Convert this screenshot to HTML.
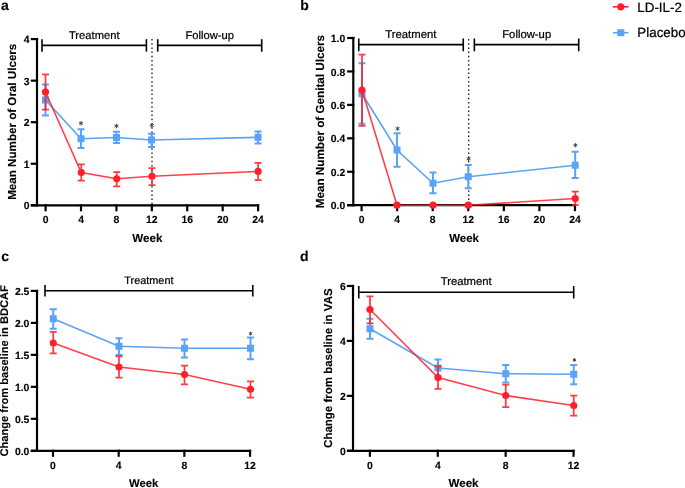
<!DOCTYPE html>
<html><head><meta charset="utf-8"><style>
html,body{margin:0;padding:0;background:#fff;width:685px;height:488px;overflow:hidden}
svg{display:block;will-change:transform}
text{font-family:"Liberation Sans",sans-serif;text-rendering:geometricPrecision}
</style></head><body>
<svg width="685" height="488" viewBox="0 0 685 488">
<rect width="685" height="488" fill="#fff"/>
<text x="1" y="10" font-size="14" text-anchor="start" font-weight="bold" fill="#000" stroke="#000" stroke-width="0.12" stroke-linejoin="round">a</text>
<line x1="37" y1="38.0" x2="37" y2="206.4" stroke="#000" stroke-width="2.2" />
<line x1="30.8" y1="205.3" x2="259.196" y2="205.3" stroke="#000" stroke-width="2.2" />
<line x1="30.8" y1="205.3" x2="38.1" y2="205.3" stroke="#000" stroke-width="2.2" />
<line x1="30.8" y1="163.75" x2="38.1" y2="163.75" stroke="#000" stroke-width="2.2" />
<line x1="30.8" y1="122.20000000000002" x2="38.1" y2="122.20000000000002" stroke="#000" stroke-width="2.2" />
<line x1="30.8" y1="80.65000000000002" x2="38.1" y2="80.65000000000002" stroke="#000" stroke-width="2.2" />
<line x1="30.8" y1="39.10000000000002" x2="38.1" y2="39.10000000000002" stroke="#000" stroke-width="2.2" />
<text x="29.6" y="209.4" font-size="10.4" text-anchor="end" font-weight="bold" fill="#000" stroke="#000" stroke-width="0.12" stroke-linejoin="round">0</text>
<text x="29.6" y="167.85" font-size="10.4" text-anchor="end" font-weight="bold" fill="#000" stroke="#000" stroke-width="0.12" stroke-linejoin="round">1</text>
<text x="29.6" y="126.30000000000001" font-size="10.4" text-anchor="end" font-weight="bold" fill="#000" stroke="#000" stroke-width="0.12" stroke-linejoin="round">2</text>
<text x="29.6" y="84.75000000000001" font-size="10.4" text-anchor="end" font-weight="bold" fill="#000" stroke="#000" stroke-width="0.12" stroke-linejoin="round">3</text>
<text x="29.6" y="43.200000000000024" font-size="10.4" text-anchor="end" font-weight="bold" fill="#000" stroke="#000" stroke-width="0.12" stroke-linejoin="round">4</text>
<line x1="45.6" y1="204.20000000000002" x2="45.6" y2="211.3" stroke="#000" stroke-width="2.2" />
<text x="45.6" y="222.8" font-size="10.4" text-anchor="middle" font-weight="bold" fill="#000" stroke="#000" stroke-width="0.12" stroke-linejoin="round">0</text>
<line x1="81.01599999999999" y1="204.20000000000002" x2="81.01599999999999" y2="211.3" stroke="#000" stroke-width="2.2" />
<text x="81.01599999999999" y="222.8" font-size="10.4" text-anchor="middle" font-weight="bold" fill="#000" stroke="#000" stroke-width="0.12" stroke-linejoin="round">4</text>
<line x1="116.43199999999999" y1="204.20000000000002" x2="116.43199999999999" y2="211.3" stroke="#000" stroke-width="2.2" />
<text x="116.43199999999999" y="222.8" font-size="10.4" text-anchor="middle" font-weight="bold" fill="#000" stroke="#000" stroke-width="0.12" stroke-linejoin="round">8</text>
<line x1="151.84799999999998" y1="204.20000000000002" x2="151.84799999999998" y2="211.3" stroke="#000" stroke-width="2.2" />
<text x="151.84799999999998" y="222.8" font-size="10.4" text-anchor="middle" font-weight="bold" fill="#000" stroke="#000" stroke-width="0.12" stroke-linejoin="round">12</text>
<line x1="187.26399999999998" y1="204.20000000000002" x2="187.26399999999998" y2="211.3" stroke="#000" stroke-width="2.2" />
<text x="187.26399999999998" y="222.8" font-size="10.4" text-anchor="middle" font-weight="bold" fill="#000" stroke="#000" stroke-width="0.12" stroke-linejoin="round">16</text>
<line x1="222.67999999999998" y1="204.20000000000002" x2="222.67999999999998" y2="211.3" stroke="#000" stroke-width="2.2" />
<text x="222.67999999999998" y="222.8" font-size="10.4" text-anchor="middle" font-weight="bold" fill="#000" stroke="#000" stroke-width="0.12" stroke-linejoin="round">20</text>
<line x1="258.096" y1="204.20000000000002" x2="258.096" y2="211.3" stroke="#000" stroke-width="2.2" />
<text x="258.096" y="222.8" font-size="10.4" text-anchor="middle" font-weight="bold" fill="#000" stroke="#000" stroke-width="0.12" stroke-linejoin="round">24</text>
<line x1="42" y1="45.4" x2="146.4" y2="45.4" stroke="#000" stroke-width="1.6" />
<line x1="42" y1="39.2" x2="42" y2="51.7" stroke="#000" stroke-width="1.6" />
<line x1="146.4" y1="39.2" x2="146.4" y2="51.7" stroke="#000" stroke-width="1.6" />
<line x1="157.7" y1="45.4" x2="261.7" y2="45.4" stroke="#000" stroke-width="1.6" />
<line x1="157.7" y1="39.2" x2="157.7" y2="51.7" stroke="#000" stroke-width="1.6" />
<line x1="261.7" y1="39.2" x2="261.7" y2="51.7" stroke="#000" stroke-width="1.6" />
<text x="94.25" y="38.8" font-size="11.2" text-anchor="middle" font-weight="normal" fill="#000" stroke="#000" stroke-width="0.22" stroke-linejoin="round">Treatment</text>
<text x="209.75" y="38.8" font-size="11.2" text-anchor="middle" font-weight="normal" fill="#000" stroke="#000" stroke-width="0.22" stroke-linejoin="round">Follow-up</text>
<line x1="152" y1="39" x2="152" y2="205" stroke="#000" stroke-width="1.2" stroke-dasharray="1.5 2.7"/>
<text x="147.3" y="241.6" font-size="11.6" text-anchor="middle" font-weight="bold" fill="#000" stroke="#000" stroke-width="0.12" stroke-linejoin="round">Week</text>
<text x="0" y="0" transform="translate(16.0,121.75) rotate(-90)" font-size="11.62" text-anchor="middle" font-weight="bold" fill="#000" stroke="#000" stroke-width="0.12" stroke-linejoin="round">Mean Number of Oral Ulcers</text>
<path d="M45.5,100L81,138.75L116.5,137.5L151.5,140L258.1,137.3" stroke="#5aa3f8" stroke-width="1.6" fill="none" opacity="1.0"/>
<rect x="42.0" y="96.5" width="7.0" height="7.0" fill="#5aa3f8"/>
<rect x="77.5" y="135.25" width="7.0" height="7.0" fill="#5aa3f8"/>
<rect x="113.0" y="134.0" width="7.0" height="7.0" fill="#5aa3f8"/>
<rect x="148.0" y="136.5" width="7.0" height="7.0" fill="#5aa3f8"/>
<rect x="254.60000000000002" y="133.8" width="7.0" height="7.0" fill="#5aa3f8"/>
<path d="M45.5,84.5V115.5M42.0,84.5H49.0M42.0,115.5H49.0" stroke="#5aa3f8" stroke-width="2.0" fill="none" opacity="1.0"/>
<path d="M81,129.25V148M77.5,129.25H84.5M77.5,148H84.5" stroke="#5aa3f8" stroke-width="2.0" fill="none" opacity="1.0"/>
<path d="M116.5,131.75V143M113.0,131.75H120.0M113.0,143H120.0" stroke="#5aa3f8" stroke-width="2.0" fill="none" opacity="1.0"/>
<path d="M151.5,133.75V147M148.0,133.75H155.0M148.0,147H155.0" stroke="#5aa3f8" stroke-width="2.0" fill="none" opacity="1.0"/>
<path d="M258.1,131.5V143.4M254.60000000000002,131.5H261.6M254.60000000000002,143.4H261.6" stroke="#5aa3f8" stroke-width="2.0" fill="none" opacity="1.0"/>
<path d="M45.5,92L81.25,172.5L116.75,178.75L152,176.25L258.1,171.4" stroke="#ff1f2a" stroke-width="1.6" fill="none" opacity="0.85"/>
<circle cx="45.5" cy="92" r="3.6" fill="#ff1f2a"/>
<circle cx="81.25" cy="172.5" r="3.6" fill="#ff1f2a"/>
<circle cx="116.75" cy="178.75" r="3.6" fill="#ff1f2a"/>
<circle cx="152" cy="176.25" r="3.6" fill="#ff1f2a"/>
<circle cx="258.1" cy="171.4" r="3.6" fill="#ff1f2a"/>
<path d="M45.5,74.25V109.5M42.0,74.25H49.0M42.0,109.5H49.0" stroke="#ff1f2a" stroke-width="1.75" fill="none" opacity="0.88"/>
<path d="M81.25,164.25V180.5M77.75,164.25H84.75M77.75,180.5H84.75" stroke="#ff1f2a" stroke-width="1.75" fill="none" opacity="0.88"/>
<path d="M116.75,172V186.25M113.25,172H120.25M113.25,186.25H120.25" stroke="#ff1f2a" stroke-width="1.75" fill="none" opacity="0.88"/>
<path d="M152,168V185M148.5,168H155.5M148.5,185H155.5" stroke="#ff1f2a" stroke-width="1.75" fill="none" opacity="0.88"/>
<path d="M258.1,162.8V180M254.60000000000002,162.8H261.6M254.60000000000002,180H261.6" stroke="#ff1f2a" stroke-width="1.75" fill="none" opacity="0.88"/>
<path d="M81.00,121.00L81.00,125.60M79.01,122.15L82.99,124.45M82.99,122.15L79.01,124.45" stroke="#3a3a3a" stroke-width="0.9" fill="none"/>
<path d="M116.50,123.70L116.50,128.30M114.51,124.85L118.49,127.15M118.49,124.85L114.51,127.15" stroke="#3a3a3a" stroke-width="0.9" fill="none"/>
<path d="M151.80,123.20L151.80,127.80M149.81,124.35L153.79,126.65M153.79,124.35L149.81,126.65" stroke="#3a3a3a" stroke-width="0.9" fill="none"/>
<text x="300.3" y="10" font-size="14" text-anchor="start" font-weight="bold" fill="#000" stroke="#000" stroke-width="0.12" stroke-linejoin="round">b</text>
<line x1="353.3" y1="36.9" x2="353.3" y2="206.29999999999998" stroke="#000" stroke-width="2.2" />
<line x1="347" y1="205.2" x2="576.0600000000001" y2="205.2" stroke="#000" stroke-width="2.2" />
<line x1="347.1" y1="205.2" x2="354.40000000000003" y2="205.2" stroke="#000" stroke-width="2.2" />
<line x1="347.1" y1="171.76" x2="354.40000000000003" y2="171.76" stroke="#000" stroke-width="2.2" />
<line x1="347.1" y1="138.32" x2="354.40000000000003" y2="138.32" stroke="#000" stroke-width="2.2" />
<line x1="347.1" y1="104.88" x2="354.40000000000003" y2="104.88" stroke="#000" stroke-width="2.2" />
<line x1="347.1" y1="71.44" x2="354.40000000000003" y2="71.44" stroke="#000" stroke-width="2.2" />
<line x1="347.1" y1="38.0" x2="354.40000000000003" y2="38.0" stroke="#000" stroke-width="2.2" />
<text x="345.3" y="209.29999999999998" font-size="10.4" text-anchor="end" font-weight="bold" fill="#000" stroke="#000" stroke-width="0.12" stroke-linejoin="round">0.0</text>
<text x="345.3" y="175.85999999999999" font-size="10.4" text-anchor="end" font-weight="bold" fill="#000" stroke="#000" stroke-width="0.12" stroke-linejoin="round">0.2</text>
<text x="345.3" y="142.42" font-size="10.4" text-anchor="end" font-weight="bold" fill="#000" stroke="#000" stroke-width="0.12" stroke-linejoin="round">0.4</text>
<text x="345.3" y="108.97999999999999" font-size="10.4" text-anchor="end" font-weight="bold" fill="#000" stroke="#000" stroke-width="0.12" stroke-linejoin="round">0.6</text>
<text x="345.3" y="75.53999999999999" font-size="10.4" text-anchor="end" font-weight="bold" fill="#000" stroke="#000" stroke-width="0.12" stroke-linejoin="round">0.8</text>
<text x="345.3" y="42.1" font-size="10.4" text-anchor="end" font-weight="bold" fill="#000" stroke="#000" stroke-width="0.12" stroke-linejoin="round">1.0</text>
<line x1="361.6" y1="204.1" x2="361.6" y2="211.2" stroke="#000" stroke-width="2.2" />
<text x="361.6" y="222.8" font-size="10.4" text-anchor="middle" font-weight="bold" fill="#000" stroke="#000" stroke-width="0.12" stroke-linejoin="round">0</text>
<line x1="397.16" y1="204.1" x2="397.16" y2="211.2" stroke="#000" stroke-width="2.2" />
<text x="397.16" y="222.8" font-size="10.4" text-anchor="middle" font-weight="bold" fill="#000" stroke="#000" stroke-width="0.12" stroke-linejoin="round">4</text>
<line x1="432.72" y1="204.1" x2="432.72" y2="211.2" stroke="#000" stroke-width="2.2" />
<text x="432.72" y="222.8" font-size="10.4" text-anchor="middle" font-weight="bold" fill="#000" stroke="#000" stroke-width="0.12" stroke-linejoin="round">8</text>
<line x1="468.28000000000003" y1="204.1" x2="468.28000000000003" y2="211.2" stroke="#000" stroke-width="2.2" />
<text x="468.28000000000003" y="222.8" font-size="10.4" text-anchor="middle" font-weight="bold" fill="#000" stroke="#000" stroke-width="0.12" stroke-linejoin="round">12</text>
<line x1="503.84000000000003" y1="204.1" x2="503.84000000000003" y2="211.2" stroke="#000" stroke-width="2.2" />
<text x="503.84000000000003" y="222.8" font-size="10.4" text-anchor="middle" font-weight="bold" fill="#000" stroke="#000" stroke-width="0.12" stroke-linejoin="round">16</text>
<line x1="539.4000000000001" y1="204.1" x2="539.4000000000001" y2="211.2" stroke="#000" stroke-width="2.2" />
<text x="539.4000000000001" y="222.8" font-size="10.4" text-anchor="middle" font-weight="bold" fill="#000" stroke="#000" stroke-width="0.12" stroke-linejoin="round">20</text>
<line x1="574.96" y1="204.1" x2="574.96" y2="211.2" stroke="#000" stroke-width="2.2" />
<text x="574.96" y="222.8" font-size="10.4" text-anchor="middle" font-weight="bold" fill="#000" stroke="#000" stroke-width="0.12" stroke-linejoin="round">24</text>
<line x1="358.75" y1="44.6" x2="463.25" y2="44.6" stroke="#000" stroke-width="1.6" />
<line x1="358.75" y1="38.5" x2="358.75" y2="51.25" stroke="#000" stroke-width="1.6" />
<line x1="463.25" y1="38.5" x2="463.25" y2="51.25" stroke="#000" stroke-width="1.6" />
<line x1="474.35" y1="44.6" x2="578.7" y2="44.6" stroke="#000" stroke-width="1.6" />
<line x1="474.35" y1="38.5" x2="474.35" y2="51.25" stroke="#000" stroke-width="1.6" />
<line x1="578.7" y1="38.5" x2="578.7" y2="51.25" stroke="#000" stroke-width="1.6" />
<text x="410.85" y="38.3" font-size="11.3" text-anchor="middle" font-weight="normal" fill="#000" stroke="#000" stroke-width="0.22" stroke-linejoin="round">Treatment</text>
<text x="526.7" y="38.3" font-size="11.3" text-anchor="middle" font-weight="normal" fill="#000" stroke="#000" stroke-width="0.22" stroke-linejoin="round">Follow-up</text>
<line x1="468.7" y1="39" x2="468.7" y2="205" stroke="#000" stroke-width="1.2" stroke-dasharray="1.5 2.7"/>
<text x="464.1" y="241.9" font-size="11.5" text-anchor="middle" font-weight="bold" fill="#000" stroke="#000" stroke-width="0.12" stroke-linejoin="round">Week</text>
<text x="0" y="0" transform="translate(324.4,121.6) rotate(-90)" font-size="11.7" text-anchor="middle" font-weight="bold" fill="#000" stroke="#000" stroke-width="0.12" stroke-linejoin="round">Mean Number of Genital Ulcers</text>
<path d="M362,93.75L397,150L433,183.25L468.25,176.75L575.2,165.2" stroke="#5aa3f8" stroke-width="1.6" fill="none" opacity="1.0"/>
<rect x="358.5" y="90.25" width="7.0" height="7.0" fill="#5aa3f8"/>
<rect x="393.5" y="146.5" width="7.0" height="7.0" fill="#5aa3f8"/>
<rect x="429.5" y="179.75" width="7.0" height="7.0" fill="#5aa3f8"/>
<rect x="464.75" y="173.25" width="7.0" height="7.0" fill="#5aa3f8"/>
<rect x="571.7" y="161.7" width="7.0" height="7.0" fill="#5aa3f8"/>
<path d="M362,63.25V123.75M358.5,63.25H365.5M358.5,123.75H365.5" stroke="#5aa3f8" stroke-width="2.0" fill="none" opacity="1.0"/>
<path d="M397,133.25V166.75M393.5,133.25H400.5M393.5,166.75H400.5" stroke="#5aa3f8" stroke-width="2.0" fill="none" opacity="1.0"/>
<path d="M433,172.5V193.25M429.5,172.5H436.5M429.5,193.25H436.5" stroke="#5aa3f8" stroke-width="2.0" fill="none" opacity="1.0"/>
<path d="M468.25,165V188.25M464.75,165H471.75M464.75,188.25H471.75" stroke="#5aa3f8" stroke-width="2.0" fill="none" opacity="1.0"/>
<path d="M575.2,151.85V178.1M571.7,151.85H578.7M571.7,178.1H578.7" stroke="#5aa3f8" stroke-width="2.0" fill="none" opacity="1.0"/>
<path d="M362,90L397,205.2L433,205.2L468.3,205.2L575.25,198.5" stroke="#ff1f2a" stroke-width="1.6" fill="none" opacity="0.85"/>
<circle cx="362" cy="90" r="3.6" fill="#ff1f2a"/>
<circle cx="397" cy="205.2" r="3.6" fill="#ff1f2a"/>
<circle cx="433" cy="205.2" r="3.6" fill="#ff1f2a"/>
<circle cx="468.3" cy="205.2" r="3.6" fill="#ff1f2a"/>
<circle cx="575.25" cy="198.5" r="3.6" fill="#ff1f2a"/>
<path d="M362,54.5V125.75M358.5,54.5H365.5M358.5,125.75H365.5" stroke="#ff1f2a" stroke-width="1.75" fill="none" opacity="0.88"/>
<path d="M575.25,191.5V205M571.75,191.5H578.75M571.75,205H578.75" stroke="#ff1f2a" stroke-width="1.75" fill="none" opacity="0.88"/>
<path d="M397.60,126.30L397.60,130.90M395.61,127.45L399.59,129.75M399.59,127.45L395.61,129.75" stroke="#3a3a3a" stroke-width="0.9" fill="none"/>
<path d="M468.60,156.50L468.60,161.10M466.61,157.65L470.59,159.95M470.59,157.65L466.61,159.95" stroke="#3a3a3a" stroke-width="0.9" fill="none"/>
<path d="M575.40,142.90L575.40,147.50M573.41,144.05L577.39,146.35M577.39,144.05L573.41,146.35" stroke="#3a3a3a" stroke-width="0.9" fill="none"/>
<text x="1.3" y="260.7" font-size="14" text-anchor="start" font-weight="bold" fill="#000" stroke="#000" stroke-width="0.12" stroke-linejoin="round">c</text>
<line x1="37" y1="289.79999999999995" x2="37" y2="451.90000000000003" stroke="#000" stroke-width="2.2" />
<line x1="30.8" y1="450.8" x2="251.14000000000001" y2="450.8" stroke="#000" stroke-width="2.2" />
<line x1="30.8" y1="450.8" x2="38.1" y2="450.8" stroke="#000" stroke-width="2.2" />
<line x1="30.8" y1="418.82" x2="38.1" y2="418.82" stroke="#000" stroke-width="2.2" />
<line x1="30.8" y1="386.84000000000003" x2="38.1" y2="386.84000000000003" stroke="#000" stroke-width="2.2" />
<line x1="30.8" y1="354.86" x2="38.1" y2="354.86" stroke="#000" stroke-width="2.2" />
<line x1="30.8" y1="322.88" x2="38.1" y2="322.88" stroke="#000" stroke-width="2.2" />
<line x1="30.8" y1="290.9" x2="38.1" y2="290.9" stroke="#000" stroke-width="2.2" />
<text x="29.4" y="454.90000000000003" font-size="10.4" text-anchor="end" font-weight="bold" fill="#000" stroke="#000" stroke-width="0.12" stroke-linejoin="round">0.0</text>
<text x="29.4" y="422.92" font-size="10.4" text-anchor="end" font-weight="bold" fill="#000" stroke="#000" stroke-width="0.12" stroke-linejoin="round">0.5</text>
<text x="29.4" y="390.94000000000005" font-size="10.4" text-anchor="end" font-weight="bold" fill="#000" stroke="#000" stroke-width="0.12" stroke-linejoin="round">1.0</text>
<text x="29.4" y="358.96000000000004" font-size="10.4" text-anchor="end" font-weight="bold" fill="#000" stroke="#000" stroke-width="0.12" stroke-linejoin="round">1.5</text>
<text x="29.4" y="326.98" font-size="10.4" text-anchor="end" font-weight="bold" fill="#000" stroke="#000" stroke-width="0.12" stroke-linejoin="round">2.0</text>
<text x="29.4" y="295.0" font-size="10.4" text-anchor="end" font-weight="bold" fill="#000" stroke="#000" stroke-width="0.12" stroke-linejoin="round">2.5</text>
<line x1="53.0" y1="449.7" x2="53.0" y2="456.8" stroke="#000" stroke-width="2.2" />
<text x="53.0" y="468.6" font-size="10.4" text-anchor="middle" font-weight="bold" fill="#000" stroke="#000" stroke-width="0.12" stroke-linejoin="round">0</text>
<line x1="118.68" y1="449.7" x2="118.68" y2="456.8" stroke="#000" stroke-width="2.2" />
<text x="118.68" y="468.6" font-size="10.4" text-anchor="middle" font-weight="bold" fill="#000" stroke="#000" stroke-width="0.12" stroke-linejoin="round">4</text>
<line x1="184.36" y1="449.7" x2="184.36" y2="456.8" stroke="#000" stroke-width="2.2" />
<text x="184.36" y="468.6" font-size="10.4" text-anchor="middle" font-weight="bold" fill="#000" stroke="#000" stroke-width="0.12" stroke-linejoin="round">8</text>
<line x1="250.04000000000002" y1="449.7" x2="250.04000000000002" y2="456.8" stroke="#000" stroke-width="2.2" />
<text x="250.04000000000002" y="468.6" font-size="10.4" text-anchor="middle" font-weight="bold" fill="#000" stroke="#000" stroke-width="0.12" stroke-linejoin="round">12</text>
<line x1="45" y1="290.8" x2="252.8" y2="290.8" stroke="#000" stroke-width="1.6" />
<line x1="45" y1="285" x2="45" y2="296.6" stroke="#000" stroke-width="1.6" />
<line x1="252.8" y1="285" x2="252.8" y2="296.6" stroke="#000" stroke-width="1.6" />
<text x="148.9" y="283.9" font-size="10.9" text-anchor="middle" font-weight="normal" fill="#000" stroke="#000" stroke-width="0.22" stroke-linejoin="round">Treatment</text>
<text x="143.65" y="486.7" font-size="11.35" text-anchor="middle" font-weight="bold" fill="#000" stroke="#000" stroke-width="0.12" stroke-linejoin="round">Week</text>
<text x="0" y="0" transform="translate(7.9,370.85) rotate(-90)" font-size="11.15" text-anchor="middle" font-weight="bold" fill="#000" stroke="#000" stroke-width="0.12" stroke-linejoin="round">Change from baseline in BDCAF</text>
<path d="M53.25,318.75L119,346.25L184.5,348.25L250.5,348.25" stroke="#5aa3f8" stroke-width="1.6" fill="none" opacity="1.0"/>
<rect x="49.75" y="315.25" width="7.0" height="7.0" fill="#5aa3f8"/>
<rect x="115.5" y="342.75" width="7.0" height="7.0" fill="#5aa3f8"/>
<rect x="181.0" y="344.75" width="7.0" height="7.0" fill="#5aa3f8"/>
<rect x="247.0" y="344.75" width="7.0" height="7.0" fill="#5aa3f8"/>
<path d="M53.25,309.25V328.75M49.75,309.25H56.75M49.75,328.75H56.75" stroke="#5aa3f8" stroke-width="2.0" fill="none" opacity="1.0"/>
<path d="M119,338.25V355M115.5,338.25H122.5M115.5,355H122.5" stroke="#5aa3f8" stroke-width="2.0" fill="none" opacity="1.0"/>
<path d="M184.5,339.5V357.5M181.0,339.5H188.0M181.0,357.5H188.0" stroke="#5aa3f8" stroke-width="2.0" fill="none" opacity="1.0"/>
<path d="M250.5,337.5V359.25M247.0,337.5H254.0M247.0,359.25H254.0" stroke="#5aa3f8" stroke-width="2.0" fill="none" opacity="1.0"/>
<path d="M53.25,343L119,367L184.5,374.5L250.5,389.25" stroke="#ff1f2a" stroke-width="1.6" fill="none" opacity="0.85"/>
<circle cx="53.25" cy="343" r="3.6" fill="#ff1f2a"/>
<circle cx="119" cy="367" r="3.6" fill="#ff1f2a"/>
<circle cx="184.5" cy="374.5" r="3.6" fill="#ff1f2a"/>
<circle cx="250.5" cy="389.25" r="3.6" fill="#ff1f2a"/>
<path d="M53.25,331.75V353.25M49.75,331.75H56.75M49.75,353.25H56.75" stroke="#ff1f2a" stroke-width="1.75" fill="none" opacity="0.88"/>
<path d="M119,356.25V377.5M115.5,356.25H122.5M115.5,377.5H122.5" stroke="#ff1f2a" stroke-width="1.75" fill="none" opacity="0.88"/>
<path d="M184.5,365.5V384.25M181.0,365.5H188.0M181.0,384.25H188.0" stroke="#ff1f2a" stroke-width="1.75" fill="none" opacity="0.88"/>
<path d="M250.5,381.25V397.5M247.0,381.25H254.0M247.0,397.5H254.0" stroke="#ff1f2a" stroke-width="1.75" fill="none" opacity="0.88"/>
<path d="M250.60,331.60L250.60,335.60M248.87,332.60L252.33,334.60M252.33,332.60L248.87,334.60" stroke="#3a3a3a" stroke-width="0.9" fill="none"/>
<text x="300.1" y="260.7" font-size="14" text-anchor="start" font-weight="bold" fill="#000" stroke="#000" stroke-width="0.12" stroke-linejoin="round">d</text>
<line x1="353" y1="284.9" x2="353" y2="451.90000000000003" stroke="#000" stroke-width="2.2" />
<line x1="347" y1="450.8" x2="574.64" y2="450.8" stroke="#000" stroke-width="2.2" />
<line x1="346.8" y1="450.8" x2="354.1" y2="450.8" stroke="#000" stroke-width="2.2" />
<line x1="346.8" y1="395.86" x2="354.1" y2="395.86" stroke="#000" stroke-width="2.2" />
<line x1="346.8" y1="340.92" x2="354.1" y2="340.92" stroke="#000" stroke-width="2.2" />
<line x1="346.8" y1="285.98" x2="354.1" y2="285.98" stroke="#000" stroke-width="2.2" />
<text x="345.7" y="454.90000000000003" font-size="10.4" text-anchor="end" font-weight="bold" fill="#000" stroke="#000" stroke-width="0.12" stroke-linejoin="round">0</text>
<text x="345.7" y="399.96000000000004" font-size="10.4" text-anchor="end" font-weight="bold" fill="#000" stroke="#000" stroke-width="0.12" stroke-linejoin="round">2</text>
<text x="345.7" y="345.02000000000004" font-size="10.4" text-anchor="end" font-weight="bold" fill="#000" stroke="#000" stroke-width="0.12" stroke-linejoin="round">4</text>
<text x="345.7" y="290.08000000000004" font-size="10.4" text-anchor="end" font-weight="bold" fill="#000" stroke="#000" stroke-width="0.12" stroke-linejoin="round">6</text>
<line x1="369.9" y1="449.7" x2="369.9" y2="456.8" stroke="#000" stroke-width="2.2" />
<text x="369.9" y="468.8" font-size="10.4" text-anchor="middle" font-weight="bold" fill="#000" stroke="#000" stroke-width="0.12" stroke-linejoin="round">0</text>
<line x1="437.78" y1="449.7" x2="437.78" y2="456.8" stroke="#000" stroke-width="2.2" />
<text x="437.78" y="468.8" font-size="10.4" text-anchor="middle" font-weight="bold" fill="#000" stroke="#000" stroke-width="0.12" stroke-linejoin="round">4</text>
<line x1="505.65999999999997" y1="449.7" x2="505.65999999999997" y2="456.8" stroke="#000" stroke-width="2.2" />
<text x="505.65999999999997" y="468.8" font-size="10.4" text-anchor="middle" font-weight="bold" fill="#000" stroke="#000" stroke-width="0.12" stroke-linejoin="round">8</text>
<line x1="573.54" y1="449.7" x2="573.54" y2="456.8" stroke="#000" stroke-width="2.2" />
<text x="573.54" y="468.8" font-size="10.4" text-anchor="middle" font-weight="bold" fill="#000" stroke="#000" stroke-width="0.12" stroke-linejoin="round">12</text>
<line x1="358.75" y1="292.2" x2="573.7" y2="292.2" stroke="#000" stroke-width="1.6" />
<line x1="358.75" y1="286" x2="358.75" y2="298.5" stroke="#000" stroke-width="1.6" />
<line x1="573.7" y1="286" x2="573.7" y2="298.5" stroke="#000" stroke-width="1.6" />
<text x="466.2" y="285.4" font-size="11.3" text-anchor="middle" font-weight="normal" fill="#000" stroke="#000" stroke-width="0.22" stroke-linejoin="round">Treatment</text>
<text x="463.5" y="487.4" font-size="11.6" text-anchor="middle" font-weight="bold" fill="#000" stroke="#000" stroke-width="0.12" stroke-linejoin="round">Week</text>
<text x="0" y="0" transform="translate(332.3,368.15) rotate(-90)" font-size="11.5" text-anchor="middle" font-weight="bold" fill="#000" stroke="#000" stroke-width="0.12" stroke-linejoin="round">Change from baseline in VAS</text>
<path d="M370,328.75L438,368L505.75,373.75L573.75,374.25" stroke="#5aa3f8" stroke-width="1.6" fill="none" opacity="1.0"/>
<rect x="366.5" y="325.25" width="7.0" height="7.0" fill="#5aa3f8"/>
<rect x="434.5" y="364.5" width="7.0" height="7.0" fill="#5aa3f8"/>
<rect x="502.25" y="370.25" width="7.0" height="7.0" fill="#5aa3f8"/>
<rect x="570.25" y="370.75" width="7.0" height="7.0" fill="#5aa3f8"/>
<path d="M370,318.75V338.75M366.5,318.75H373.5M366.5,338.75H373.5" stroke="#5aa3f8" stroke-width="2.0" fill="none" opacity="1.0"/>
<path d="M438,359.5V376.25M434.5,359.5H441.5M434.5,376.25H441.5" stroke="#5aa3f8" stroke-width="2.0" fill="none" opacity="1.0"/>
<path d="M505.75,365V382.5M502.25,365H509.25M502.25,382.5H509.25" stroke="#5aa3f8" stroke-width="2.0" fill="none" opacity="1.0"/>
<path d="M573.75,365V384.25M570.25,365H577.25M570.25,384.25H577.25" stroke="#5aa3f8" stroke-width="2.0" fill="none" opacity="1.0"/>
<path d="M370,309.5L438,377.5L505.75,395.5L573.75,405.5" stroke="#ff1f2a" stroke-width="1.6" fill="none" opacity="0.85"/>
<circle cx="370" cy="309.5" r="3.6" fill="#ff1f2a"/>
<circle cx="438" cy="377.5" r="3.6" fill="#ff1f2a"/>
<circle cx="505.75" cy="395.5" r="3.6" fill="#ff1f2a"/>
<circle cx="573.75" cy="405.5" r="3.6" fill="#ff1f2a"/>
<path d="M370,296.25V323.25M366.5,296.25H373.5M366.5,323.25H373.5" stroke="#ff1f2a" stroke-width="1.75" fill="none" opacity="0.88"/>
<path d="M438,366.25V388.75M434.5,366.25H441.5M434.5,388.75H441.5" stroke="#ff1f2a" stroke-width="1.75" fill="none" opacity="0.88"/>
<path d="M505.75,384.5V407M502.25,384.5H509.25M502.25,407H509.25" stroke="#ff1f2a" stroke-width="1.75" fill="none" opacity="0.88"/>
<path d="M573.75,395.5V415.5M570.25,395.5H577.25M570.25,415.5H577.25" stroke="#ff1f2a" stroke-width="1.75" fill="none" opacity="0.88"/>
<path d="M574.40,358.00L574.40,361.80M572.75,358.95L576.05,360.85M576.05,358.95L572.75,360.85" stroke="#3a3a3a" stroke-width="0.9" fill="none"/>
<line x1="612.9" y1="6.8" x2="628.4" y2="6.8" stroke="#ff1f2a" stroke-width="1.6" />
<circle cx="620.8" cy="6.8" r="3.6" fill="#ff1f2a"/>
<text x="637.3" y="11.6" font-size="13.4" text-anchor="start" font-weight="normal" fill="#000" stroke="#000" stroke-width="0.22" stroke-linejoin="round">LD-IL-2</text>
<line x1="612.9" y1="32.7" x2="628.4" y2="32.7" stroke="#5aa3f8" stroke-width="1.6" />
<rect x="617.3" y="29.200000000000003" width="7.0" height="7.0" fill="#5aa3f8"/>
<text x="637.3" y="37.4" font-size="13.4" text-anchor="start" font-weight="normal" fill="#000" stroke="#000" stroke-width="0.22" stroke-linejoin="round">Placebo</text>
</svg>
</body></html>
